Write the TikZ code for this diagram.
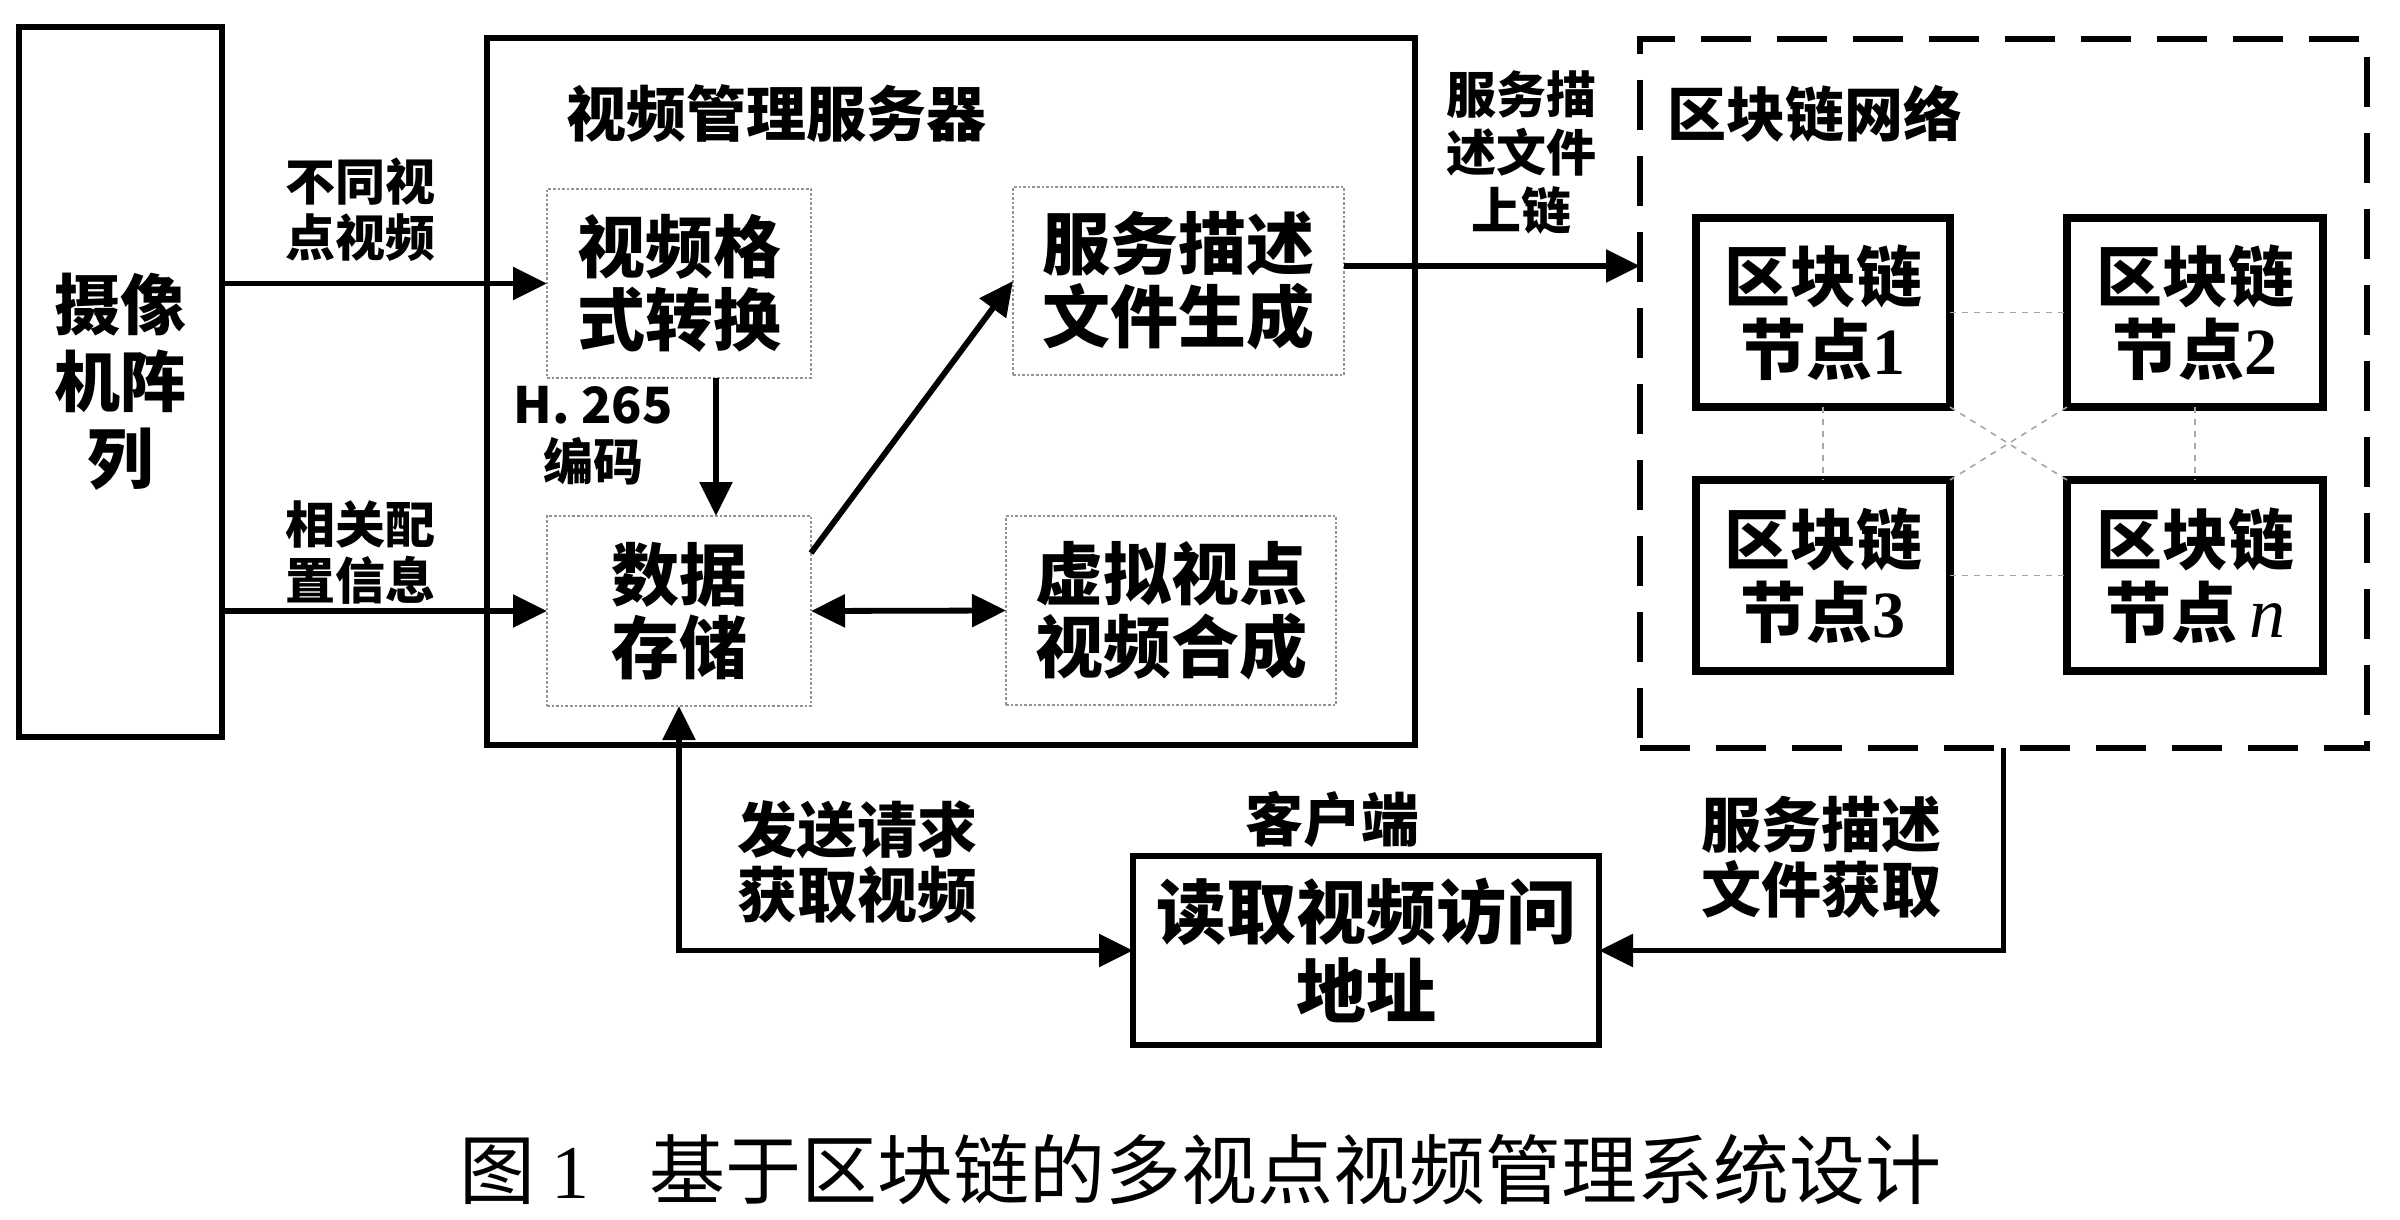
\documentclass[tikz,border=0pt]{standalone}
\usepackage{fontspec}
\setmainfont{Noto Sans CJK SC}
\newfontfamily\latinserif{Liberation Serif}
\usetikzlibrary{arrows.meta,calc}
\begin{document}
\begin{tikzpicture}[x=0.5pt,y=-0.5pt,
  box/.style={draw, line width=3.2pt, inner sep=0pt, outer sep=0pt, align=center},
  dbox/.style={draw=gray!85, densely dotted, line width=1.3pt, inner sep=0pt, outer sep=0pt, align=center,
    font=\fontsize{34}{36.5}\selectfont\bfseries},
  nodebox/.style={box, line width=3.6pt, minimum width=127pt, minimum height=94.5pt,
    font=\fontsize{33}{36.5}\selectfont\bfseries},
  lblsmall/.style={align=center, inner sep=0pt, font=\fontsize{25}{28}\selectfont\bfseries},
  lblbig/.style={align=center, inner sep=0pt, font=\fontsize{30}{32.5}\selectfont\bfseries},
  titlelbl/.style={inner sep=0pt, font=\fontsize{30}{32}\selectfont\bfseries},
  arr/.style={line width=2.9pt, -{Triangle[length=17pt,width=16pt]}},
  arrboth/.style={line width=2.9pt, {Triangle[length=17pt,width=16pt]}-{Triangle[length=17pt,width=16pt]}},
  link/.style={draw=gray!70, dashed, line width=0.8pt}
]
\useasboundingbox (0,0) rectangle (2400,1220);

% camera array
\node[box, minimum width=101.5pt, minimum height=355pt, font=\fontsize{33}{38.5}\selectfont\bfseries]
  (cam) at (120.5,382) {摄像\\机阵\\列};

% video management server
\node[box, minimum width=464pt, minimum height=353.5pt] (srv) at (951,391.5) {};
\node[titlelbl] (srvtitle) at (776,114) {视频管理服务器};
\node[dbox, minimum width=132pt, minimum height=94.5pt] (fmt) at (679,283.5) {视频格\\式转换};
\node[dbox, minimum width=132pt, minimum height=95pt] (store) at (679,611) {数据\\存储};
\node[dbox, minimum width=165.5pt, minimum height=94pt] (gen) at (1178.5,281) {服务描述\\文件生成};
\node[dbox, minimum width=165pt, minimum height=94.5pt] (virt) at (1171,610.5) {虚拟视点\\视频合成};

% blockchain network
\node[draw, line width=3.2pt, dash pattern=on 25pt off 13pt, inner sep=0pt, outer sep=0pt,
  minimum width=363.5pt, minimum height=354.5pt] (chain) at (2003.5,393.5) {};
\node[titlelbl, anchor=west, font=\fontsize{29.5}{32}\selectfont\bfseries] (chaintitle) at (1667,114) {区块链网络};
\node[nodebox] (n1) at (1823,312.5) {区块链\\节点{\latinserif 1}};
\node[nodebox, minimum width=128pt] (n2) at (2195,312.5) {区块链\\节点{\latinserif 2}};
\node[nodebox, minimum height=95.5pt] (n3) at (1823,575.5) {区块链\\节点{\latinserif 3}};
\node[nodebox, minimum width=128pt, minimum height=95.5pt] (nn) at (2195,575.5) {区块链\\节点{\latinserif\mdseries\itshape\fontsize{36}{36.5}\selectfont\,n}};

\draw[link] (n1.east) -- (n2.west);
\draw[link] (n1.south) -- (n3.north);
\draw[link] (n2.south) -- (nn.north);
\draw[link] (n3.east) -- (nn.west);
\draw[link] (n1.south east) -- (nn.north west);
\draw[link] (n2.south west) -- (n3.north east);

% client
\node[box, minimum width=233pt, minimum height=94.5pt, font=\fontsize{35}{39.5}\selectfont\bfseries]
  (client) at (1366,950.5) {读取视频访问\\地址};
\node[titlelbl, font=\fontsize{29}{32}\selectfont\bfseries] (clientlbl) at (1332,819) {客户端};

% labels
\node[lblsmall] (l1) at (360,210) {不同视\\点视频};
\node[lblsmall] (l2) at (360,553) {相关配\\置信息};
\node[lblsmall, font=\fontsize{25}{28.5}\selectfont\bfseries] (l3) at (593,436) {H. 265\\编码};
\node[lblsmall, font=\fontsize{25}{29}\selectfont\bfseries] (l4) at (1521,153) {服务描\\述文件\\上链};
\node[lblbig] (l5) at (857,862) {发送请求\\获取视频};
\node[lblbig] (l6) at (1821,857) {服务描述\\文件获取};

% connectors
\draw[arr] (cam.east |- fmt.west) -- (fmt.west);
\draw[arr] (cam.east |- store.west) -- (store.west);
\draw[arr] ($(fmt.south)+(37,0)$) -- ($(store.north)+(37,0)$);
\draw[arr] ($(store.east)+(0,-58)$) -- (gen.west);
\draw[arrboth] (store.east) -- (virt.west);
\draw[arr] ($(gen.east)+(0,-15)$) coordinate (g1) -- (g1 -| chain.west);
\draw[arr] (chain.south) |- (client.east);
\draw[arrboth] (store.south) |- (client.west);

% caption
\node[anchor=west, inner sep=0pt, font=\fontsize{38}{42}\selectfont] (cap) at (459,1170)
  {图\hspace{8pt}{\latinserif 1}\hspace{30pt}基于区块链的多视点视频管理系统设计};
\end{tikzpicture}
\end{document}
